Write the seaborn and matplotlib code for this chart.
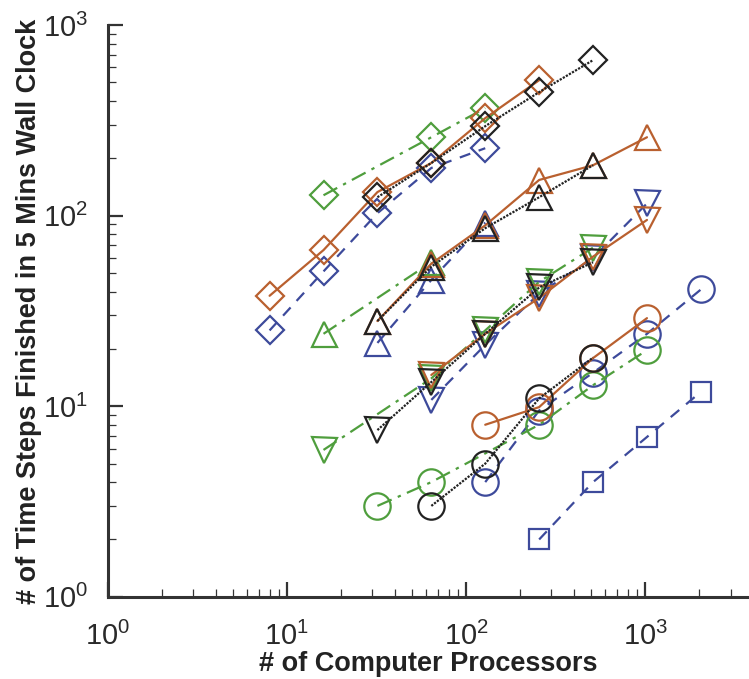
import numpy as np
import pandas as pd
import matplotlib
matplotlib.use("Agg")
import matplotlib.pyplot as plt
from matplotlib.ticker import LogLocator, NullFormatter
import seaborn as sns

# **Data**
# diamonds
dia_orange_x = [8, 16, 32, 64, 128, 256]
dia_orange_y = [38, 66, 133, 189, 325, 514]
dia_black_x = [32, 64, 128, 256, 512]
dia_black_y = [125, 189, 295, 445, 655]
dia_green_x = [16, 64, 128]
dia_green_y = [128, 258, 367]
dia_blue_x = [8, 16, 32, 64, 128]
dia_blue_y = [25, 51, 103, 178, 226]

# up triangles
up_orange_x = [32, 64, 128, 256, 512, 1024]
up_orange_y = [28, 56, 89, 154, 184, 258]
up_black_x = [32, 64, 128, 256, 512]
up_black_y = [28, 54, 86, 125, 184]
up_green_x = [16, 64]
up_green_y = [24, 57]
up_blue_x = [32, 64, 128]
up_blue_y = [21.5, 46, 92]

# down triangles
dn_orange_x = [64, 128, 256, 512, 1024]
dn_orange_y = [14.6, 24, 37, 61, 95]
dn_black_x = [32, 64, 128, 256, 512]
dn_black_y = [7.5, 13.4, 24, 42, 57]
dn_green_x = [16, 64, 128, 256, 512]
dn_green_y = [5.9, 14, 25, 45, 68]
dn_blue_x = [64, 128, 256, 512, 1024]
dn_blue_y = [10.8, 21, 39, 60, 116]

# circles
cir_orange_x = [128, 256, 512, 1024]
cir_orange_y = [8.0, 9.9, 17.9, 29]
cir_black_x = [64, 128, 256, 512]
cir_black_y = [3.0, 5.0, 11, 18]
cir_green_x = [32, 64, 256, 512, 1024]
cir_green_y = [3.0, 4.0, 8.0, 12.9, 19.7]
cir_blue_x = [128, 256, 512, 1024, 2048]
cir_blue_y = [4.0, 9.5, 15, 24, 41]

# squares
sq_blue_x = [256, 512, 1024, 2048]
sq_blue_y = [2.0, 4.0, 6.9, 11.9]

# **Styles**
orange = '#B9602F'
black = '#222222'
green = '#4F9E3D'
blue = '#3D4A9B'
dashed = (0, (5, 4))
dashdot = (0, (7, 3, 1.5, 3))
dotted = (0, (1, 0.6))

series = [
    # (x, y, color, linestyle, marker)
    (dia_blue_x, dia_blue_y, blue, dashed, 'D'),
    (up_blue_x, up_blue_y, blue, dashed, '^'),
    (dn_blue_x, dn_blue_y, blue, dashed, 'v'),
    (cir_blue_x, cir_blue_y, blue, dashed, 'o'),
    (sq_blue_x, sq_blue_y, blue, dashed, 's'),
    (dia_green_x, dia_green_y, green, dashdot, 'D'),
    (up_green_x, up_green_y, green, dashdot, '^'),
    (dn_green_x, dn_green_y, green, dashdot, 'v'),
    (cir_green_x, cir_green_y, green, dashdot, 'o'),
    (dia_orange_x, dia_orange_y, orange, '-', 'D'),
    (up_orange_x, up_orange_y, orange, '-', '^'),
    (dn_orange_x, dn_orange_y, orange, '-', 'v'),
    (cir_orange_x, cir_orange_y, orange, '-', 'o'),
    (dia_black_x, dia_black_y, black, dotted, 'D'),
    (up_black_x, up_black_y, black, dotted, '^'),
    (dn_black_x, dn_black_y, black, dotted, 'v'),
    (cir_black_x, cir_black_y, black, dotted, 'o'),
]

marker_sizes = {'D': 14, '^': 18, 'v': 18, 'o': 19, 's': 15}

sns.set_style("ticks")
plt.rcParams['font.family'] = ['Liberation Sans', 'DejaVu Sans']
plt.rcParams['mathtext.fontset'] = 'custom'
plt.rcParams['mathtext.rm'] = 'Liberation Sans'

fig = plt.figure(figsize=(7.49, 6.79), dpi=100)
ax = fig.add_axes([0.144, 0.121, 0.856, 0.842])

for x, y, c, ls, m in series:
    df = pd.DataFrame({'procs': x, 'steps': y})
    sns.lineplot(data=df, x='procs', y='steps', ax=ax, color=c, linestyle=ls,
                 linewidth=1.6, marker=m, markersize=marker_sizes[m],
                 markerfacecolor='none', markeredgecolor=c, markeredgewidth=1.6,
                 estimator=None, sort=True, legend=False)

ax.set_xscale('log')
ax.set_yscale('log')
ax.set_xlim(1, 10 ** 3.58)
ax.set_ylim(1, 1000)

ax.xaxis.set_major_locator(LogLocator(base=10, numticks=10))
ax.yaxis.set_major_locator(LogLocator(base=10, numticks=10))
ax.xaxis.set_minor_locator(LogLocator(base=10, subs=np.arange(2, 10), numticks=10))
ax.yaxis.set_minor_locator(LogLocator(base=10, subs=np.arange(2, 10), numticks=10))
ax.xaxis.set_minor_formatter(NullFormatter())
ax.yaxis.set_minor_formatter(NullFormatter())

ax.tick_params(which='major', direction='in', length=11, width=1.6, labelsize=21,
               color='#333333', labelcolor='#2a2a2a')
ax.tick_params(axis='x', which='major', pad=18)
ax.tick_params(axis='y', which='major', pad=14)
ax.tick_params(which='minor', direction='in', length=6, width=0.9, color='#333333')

for side in ['top', 'right']:
    ax.spines[side].set_visible(False)
for side in ['left', 'bottom']:
    ax.spines[side].set_linewidth(2.2)
    ax.spines[side].set_color('#333333')

ax.set_xlabel('# of Computer Processors', fontsize=19.5, fontweight='bold',
              labelpad=0, color='#222222')
ax.set_ylabel('# of Time Steps Finished in 5 Mins Wall Clock', fontsize=19.5,
              fontweight='bold', labelpad=1, color='#222222')

fig.savefig('out.png', dpi=100)
